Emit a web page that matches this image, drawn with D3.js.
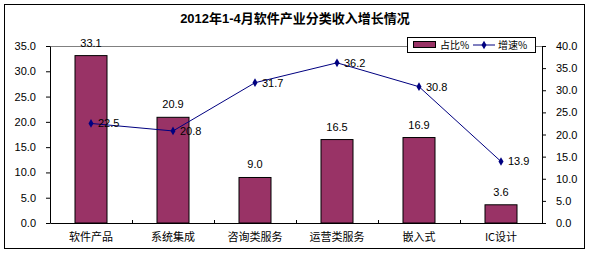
<!DOCTYPE html>
<html>
<head>
<meta charset="utf-8">
<script src="https://cdn.jsdelivr.net/npm/d3@7"></script>
<style>
  body { margin: 0; background: #fff; }
  text { font-family: "Liberation Sans", Arial, sans-serif; }
</style>
</head>
<body>
<div id="chart"></div>
<script>
// Chart data
const categories = ["软件产品", "系统集成", "咨询类服务", "运营类服务", "嵌入式", "IC设计"];
const shareValues = [33.1, 20.9, 9.0, 16.5, 16.9, 3.6];   // 占比%
const growthValues = [22.5, 20.8, 31.7, 36.2, 30.8, 13.9]; // 增速%
const leftTicks = [0, 5, 10, 15, 20, 25, 30, 35];
const rightTicks = [0, 5, 10, 15, 20, 25, 30, 35, 40];

const W = 590, H = 253;
const margin = { top: 46, right: 48, bottom: 30, left: 50 };
const width = W - margin.left - margin.right;
const height = H - margin.top - margin.bottom;

const svg = d3.select("#chart")
    .append("svg")
    .attr("width", W)
    .attr("height", H);

// Outer frame
svg.append("rect")
    .attr("x", 4.5).attr("y", 4.5)
    .attr("width", 580).attr("height", 244)
    .attr("fill", "#fff")
    .attr("stroke", "#000");

// Title
svg.append("text")
    .attr("x", 295).attr("y", 23)
    .attr("text-anchor", "middle")
    .style("font-size", "13px")
    .style("font-weight", "bold")
    .style("font-family", "'Liberation Sans', 'Noto Sans CJK SC', sans-serif")
    .text("2012年1-4月软件产业分类收入增长情况");

const g = svg.append("g")
    .attr("transform", "translate(" + margin.left + "," + margin.top + ")");

// Scales
const x = d3.scaleBand()
    .domain(categories)
    .range([0, width]);

const yLeft = d3.scaleLinear()
    .domain([0, 35])
    .range([height, 0]);

const yRight = d3.scaleLinear()
    .domain([0, 40])
    .range([height, 0]);

// Top gridline
g.append("line")
    .attr("x1", 0).attr("x2", width)
    .attr("y1", 0.5).attr("y2", 0.5)
    .attr("stroke", "#808080");

// Bars
const barW = 32;
g.selectAll(".bar")
    .data(categories)
    .enter()
    .append("rect")
    .attr("class", "bar")
    .attr("x", d => x(d) + x.bandwidth() / 2 - barW / 2)
    .attr("y", (d, i) => yLeft(shareValues[i]))
    .attr("width", barW)
    .attr("height", (d, i) => height - yLeft(shareValues[i]))
    .attr("fill", "#993366")
    .attr("stroke", "#000")
    .attr("stroke-width", 1);

// Bar labels
g.selectAll(".bar-label")
    .data(categories)
    .enter()
    .append("text")
    .attr("class", "bar-label")
    .attr("x", d => x(d) + x.bandwidth() / 2)
    .attr("y", (d, i) => yLeft(shareValues[i]) - 9)
    .attr("text-anchor", "middle")
    .style("font-size", "11px")
    .text((d, i) => shareValues[i].toFixed(1));

// Axes
const xAxis = d3.axisBottom(x).tickSize(0).tickFormat("");
g.append("g")
    .attr("transform", "translate(0," + height + ")")
    .call(xAxis)
    .call(s => s.select(".domain").attr("stroke", "#000"));

// Category boundary ticks
g.selectAll(".xtick")
    .data(categories.slice(1))
    .enter()
    .append("line")
    .attr("x1", d => Math.round(x(d)) + 0.5)
    .attr("x2", d => Math.round(x(d)) + 0.5)
    .attr("y1", height - 3)
    .attr("y2", height)
    .attr("stroke", "#000");

g.selectAll(".xlabel")
    .data(categories)
    .enter()
    .append("text")
    .attr("x", d => x(d) + x.bandwidth() / 2)
    .attr("y", height + 18)
    .attr("text-anchor", "middle")
    .style("font-size", "11px")
    .style("font-family", "'Noto Sans CJK SC', sans-serif")
    .text(d => d);

const leftAxis = d3.axisLeft(yLeft)
    .tickValues(leftTicks)
    .tickSize(4)
    .tickSizeOuter(0)
    .tickPadding(10)
    .tickFormat(d3.format(".1f"));
g.append("g")
    .call(leftAxis)
    .call(s => s.selectAll("text").style("font-size", "11px").style("font-family", "'Liberation Sans', Arial, sans-serif"));

const rightAxis = d3.axisRight(yRight)
    .tickValues(rightTicks)
    .tickSize(4)
    .tickSizeOuter(0)
    .tickPadding(10)
    .tickFormat(d3.format(".1f"));
g.append("g")
    .attr("transform", "translate(" + width + ",0)")
    .call(rightAxis)
    .call(s => s.selectAll("text").style("font-size", "11px").style("font-family", "'Liberation Sans', Arial, sans-serif"));

// Growth line
const line = d3.line()
    .x((d, i) => x(categories[i]) + x.bandwidth() / 2)
    .y(d => yRight(d));

g.append("path")
    .datum(growthValues)
    .attr("fill", "none")
    .attr("stroke", "#000080")
    .attr("stroke-width", 1)
    .attr("d", line);

const diamond = d3.symbol().type(d3.symbolDiamond).size(22);
g.selectAll(".marker")
    .data(growthValues)
    .enter()
    .append("path")
    .attr("transform", (d, i) => "translate(" + (x(categories[i]) + x.bandwidth() / 2) + "," + yRight(d) + ")")
    .attr("d", diamond)
    .attr("fill", "#000080");

g.selectAll(".line-label")
    .data(growthValues)
    .enter()
    .append("text")
    .attr("x", (d, i) => x(categories[i]) + x.bandwidth() / 2 + 7)
    .attr("y", d => yRight(d) + 4)
    .style("font-size", "11px")
    .text(d => d.toFixed(1));

// Legend
const legend = svg.append("g").attr("transform", "translate(407,37)");
legend.append("rect")
    .attr("x", 0.5).attr("y", 0.5)
    .attr("width", 128).attr("height", 15)
    .attr("fill", "#fff")
    .attr("stroke", "#000");
legend.append("rect")
    .attr("x", 6.5).attr("y", 4.5)
    .attr("width", 22).attr("height", 6)
    .attr("fill", "#993366")
    .attr("stroke", "#000");
legend.append("text")
    .attr("x", 33).attr("y", 12)
    .style("font-size", "10px")
    .style("font-family", "'Noto Sans CJK SC', sans-serif")
    .text("占比%");
legend.append("line")
    .attr("x1", 66).attr("x2", 88)
    .attr("y1", 8).attr("y2", 8)
    .attr("stroke", "#000080");
legend.append("path")
    .attr("transform", "translate(77,8)")
    .attr("d", diamond)
    .attr("fill", "#000080");
legend.append("text")
    .attr("x", 91).attr("y", 12)
    .style("font-size", "10px")
    .style("font-family", "'Noto Sans CJK SC', sans-serif")
    .text("增速%");
</script>
</body>
</html>
